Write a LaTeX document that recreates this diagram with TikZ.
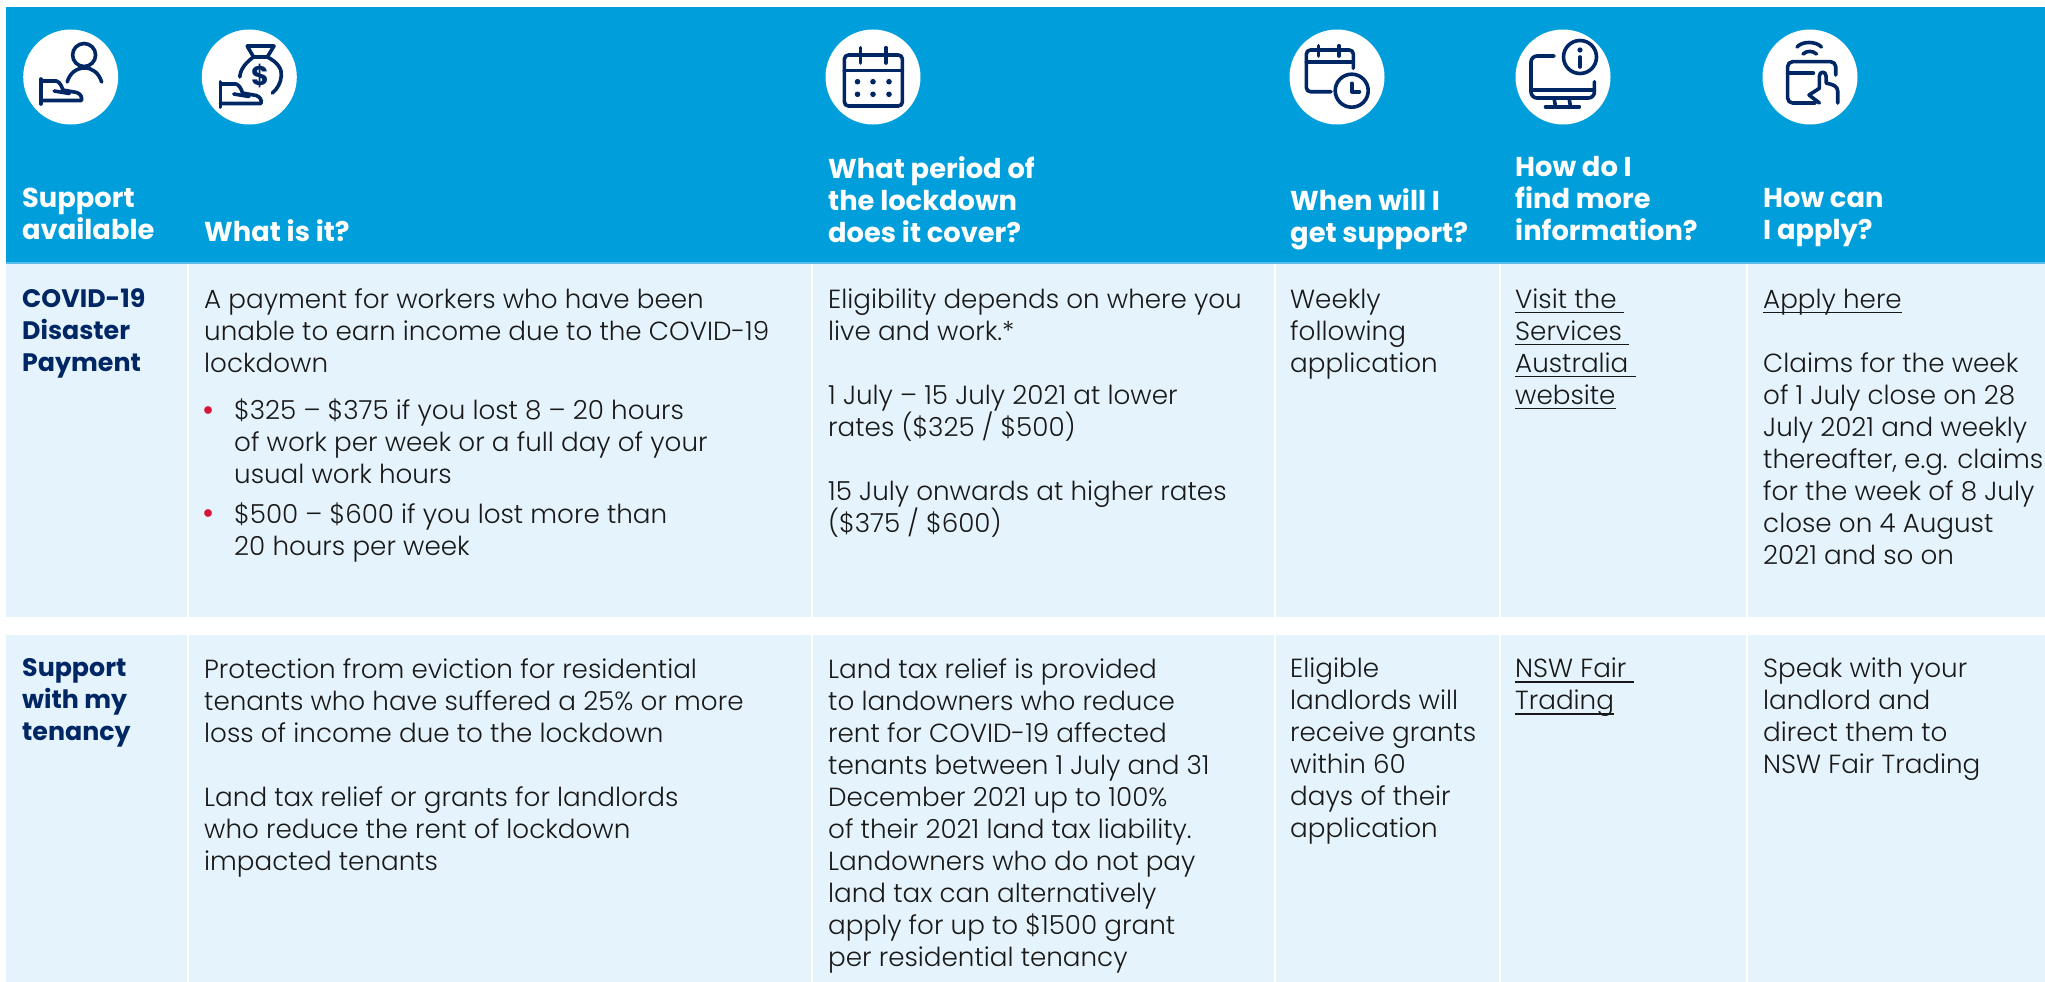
\documentclass[tikz,border=0pt]{standalone}
\usepackage{fontspec}
\setmainfont{Poppins Light}[BoldFont={Poppins Bold}]
\definecolor{headblue}{RGB}{0,159,219}
\definecolor{headline}{RGB}{90,190,235}
\definecolor{cellblue}{RGB}{229,244,252}
\definecolor{navy}{RGB}{0,38,100}
\definecolor{bodyink}{RGB}{25,25,25}
\definecolor{bulletred}{RGB}{215,21,58}
\newcommand{\ulk}[1]{\setbox0\hbox{#1}\rlap{\rule[-5pt]{\wd0}{1.5pt}}\box0 }
\newcommand{\firstline}{\rule{0pt}{26pt}}
\tikzset{
  bodycell/.style={anchor=north west,inner sep=0pt,align=left,text=bodyink,
    font=\fontsize{26.2}{32}\selectfont,execute at begin node=\firstline},
  rowhead/.style={anchor=north west,inner sep=0pt,align=left,text=navy,
    font=\fontsize{25.3}{32}\selectfont\bfseries,execute at begin node=\firstline},
  headcell/.style={anchor=north west,inner sep=0pt,align=left,text=white,
    font=\fontsize{27.3}{32}\selectfont\bfseries,execute at begin node=\firstline},
  bulletdot/.style={anchor=base,inner sep=0pt,text=bulletred,
    font=\fontsize{33}{33}\selectfont},
  iconline/.style={draw=navy,line width=3.6pt,line cap=round,line join=round,fill=none},
  icondisc/.style={circle,fill=white,draw=none,minimum size=95pt,inner sep=0pt},
  iconmark/.style={fill=navy,draw=none},
}
\newcommand{\handicon}[2]{%
  \begin{scope}[shift={(#1,#2)}]
    \draw[iconline] (-30,2) -- (-30,27);
    \draw[iconline] (-30,4) -- (-14.3,4) .. controls (-11,5) and (-9,9) .. (-7.8,13) -- (6,15.5) .. controls (10,17) and (11.5,20) .. (10.8,23.5) -- (-30,23.5);
    \draw[iconline] (-16.5,14) -- (-1.3,16.5);
  \end{scope}}
\begin{document}
\begin{tikzpicture}[x=1pt,y=-1pt]
\useasboundingbox (0,0) rectangle (2045,982);
\fill[white] (0,0) rectangle (2045,982);
% header band
\fill[headblue] (6,7) rectangle (2045,262);
\fill[headline] (6,262) rectangle (2045,264);
% cells
\foreach \xa/\xb in {6/187,189/811,813/1274,1276/1499,1501/1746,1748/2045}{
  \fill[cellblue] (\xa,264) rectangle (\xb,617);
  \fill[cellblue] (\xa,635) rectangle (\xb,982);
}
% icon discs
\node[icondisc] (d1) at (70.7,77) {};
\node[icondisc] (d2) at (249.3,77) {};
\node[icondisc] (d3) at (873,77) {};
\node[icondisc] (d4) at (1337,77) {};
\node[icondisc] (d5) at (1563,77) {};
\node[icondisc] (d6) at (1810,77) {};
% icon 1
\begin{scope}[shift={(70.7,77)}]
  \draw[iconline] (13.4,-22) circle (11.5);
  \draw[iconline] (-3.5,5) .. controls (-1,-4) and (6,-9) .. (13.9,-9) .. controls (22,-9) and (28,-4) .. (31,5);
  \handicon{0}{0}
\end{scope}
% icon 2
\begin{scope}[shift={(249.3,77)}]
  \draw[iconline] (4.3,-20) -- (-2.2,-31) -- (24.7,-31) -- (18,-20) -- cycle;
  \draw[iconline] (4.3,-20) .. controls (-3,-15) and (-9,-8) .. (-9.5,0);
  \draw[iconline] (18,-20) .. controls (28,-15) and (33,-8) .. (32,-1) .. controls (31.5,6) and (28,12) .. (23,16);
  \node[text=navy,inner sep=0pt,font=\fontsize{27}{27}\selectfont\bfseries] (dollar) at (10.8,-1.5) {\$};
  \handicon{1}{3}
\end{scope}
% icon 3
\begin{scope}[shift={(873,77)}]
  \draw[iconline,rounded corners=4pt] (-28.6,-22) rectangle (29.4,29);
  \draw[iconline] (-28.6,-6.3) -- (29.4,-6.3);
  \draw[iconline] (-12.6,-29.3) -- (-12.6,-14);
  \draw[iconline] (13,-29.3) -- (13,-14);
  \foreach \dx in {-15.5,0,16}{\foreach \dy in {4.7,17.3}{\fill[iconmark] (\dx,\dy) circle (2.8);}}
\end{scope}
% icon 4
\begin{scope}[shift={(1337,77)}]
  \draw[iconline,rounded corners=4pt] (16.3,-8.7) -- (16.3,-27) -- (-30.6,-27) -- (-30.6,14.7) -- (-6,14.7);
  \draw[iconline] (-30.6,-14.7) -- (16.3,-14.7);
  \draw[iconline] (-18.4,-31.3) -- (-18.4,-21);
  \draw[iconline] (2,-31.3) -- (2,-21);
  \draw[iconline] (14.7,13.7) circle (16.5);
  \draw[iconline] (14.7,6.3) -- (14.7,14.7) -- (22.4,14.7);
\end{scope}
% icon 5
\begin{scope}[shift={(1563,77)}]
  \draw[iconline] (17,-20) circle (16.5);
  \fill[iconmark] (17,-27) circle (2.6);
  \draw[iconline] (17,-20) -- (17,-10);
  \draw[iconline,rounded corners=6pt] (-9,-21) -- (-32,-21) -- (-32,21) -- (31.4,21) -- (31.4,4.7);
  \draw[iconline] (-32,13) -- (31.4,13);
  \draw[iconline] (-9,21) -- (-7.5,29.7);
  \draw[iconline] (6,21) -- (7.5,29.7);
  \draw[iconline] (-17.5,29.7) -- (16.3,29.7);
\end{scope}
% icon 6
\begin{scope}[shift={(1810,77)}]
  \draw[iconline] (-13,-30) .. controls (-8,-36) and (6,-36) .. (11.4,-30);
  \draw[iconline] (-7,-23) .. controls (-3,-26.5) and (2.5,-26.5) .. (6.5,-23);
  \draw[iconline,rounded corners=5pt] (25.7,-2) -- (25.7,-15.3) -- (-22.4,-15.3) -- (-22.4,26) -- (5.3,26);
  \draw[iconline] (-22.4,-3.7) -- (3.3,-3.7);
  \draw[iconline] (9.4,11.3) -- (9.4,-1) .. controls (9.4,-6) and (16,-6) .. (16,-1) -- (16.3,6.3) .. controls (22,7) and (27.7,9) .. (27.7,14) -- (27.7,26);
  \draw[iconline] (9.4,11.3) -- (-1,18) -- (9.4,26);
\end{scope}
% header text
\node[headcell] (h1) at (22,188) {Support\\available};
\node[headcell] (h2) at (204,215.5) {What is it?};
\node[headcell] (h3) at (828,156) {What period of\\the lockdown\\does it cover?};
\node[headcell] (h4) at (1290,188) {When will I\\get support?};
\node[headcell] (h5) at (1515,156) {How do I\\find more\\information?};
\node[headcell] (h6) at (1763,188) {How can\\I apply?};
% row 1
\node[rowhead] (r1a) at (22,288.5) {COVID-19\\Disaster\\Payment};
\node[bodycell] (r1b) at (204,288.5) {A payment for workers who have been\\unable to earn income due to the COVID-19\\lockdown};
\node[bulletdot] (b1) at (209,421) {•};
\node[bodycell] (r1b1) at (234,398.5) {\$325 – \$375 if you lost 8 – 20 hours\\of work per week or a full day of your\\usual work hours};
\node[bulletdot] (b2) at (209,524) {•};
\node[bodycell] (r1b2) at (234,502.5) {\$500 – \$600 if you lost more than\\20 hours per week};
\node[bodycell] (r1c) at (828,288.5) {Eligibility depends on where you\\live and work.*\\[32pt]1 July – 15 July 2021 at lower\\rates (\$325 / \$500)\\[32pt]15 July onwards at higher rates\\(\$375 / \$600)};
\node[bodycell] (r1d) at (1290,288.5) {Weekly\\following\\application};
\node[bodycell] (r1e) at (1515,288.5) {\ulk{Visit the\ }\\\ulk{Services\ }\\\ulk{Australia\ }\\\ulk{website}};
\node[bodycell] (r1f) at (1763,288.5) {\ulk{Apply here}\\[32pt]Claims for the week\\of 1 July close on 28\\July 2021 and weekly\\thereafter, e.g. claims\\for the week of 8 July\\close on 4 August\\2021 and so on};
% row 2
\node[rowhead] (r2a) at (22,658) {Support\\with my\\tenancy};
\node[bodycell] (r2b) at (204,658) {Protection from eviction for residential\\tenants who have suffered a 25\% or more\\loss of income due to the lockdown\\[32pt]Land tax relief or grants for landlords\\who reduce the rent of lockdown\\impacted tenants};
\node[bodycell] (r2c) at (828,658) {Land tax relief is provided\\to landowners who reduce\\rent for COVID-19 affected\\tenants between 1 July and 31\\December 2021 up to 100\%\\of their 2021 land tax liability.\\Landowners who do not pay\\land tax can alternatively\\apply for up to \$1500 grant\\per residential tenancy};
\node[bodycell] (r2d) at (1290,658) {Eligible\\landlords will\\receive grants\\within 60\\days of their\\application};
\node[bodycell] (r2e) at (1515,658) {\ulk{NSW Fair\ }\\\ulk{Trading}};
\node[bodycell] (r2f) at (1763,658) {Speak with your\\landlord and\\direct them to\\NSW Fair Trading};
\end{tikzpicture}
\end{document}
